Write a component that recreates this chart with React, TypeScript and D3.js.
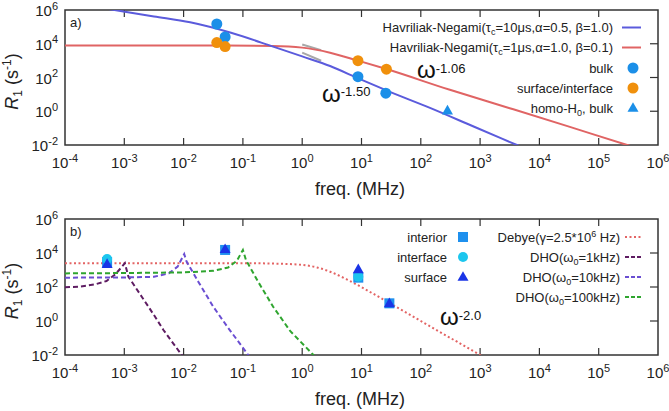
import * as d3 from 'd3';
import React from 'react';

type P = [number, number];

// x: log10(freq / MHz), y: log10(R1 / s^-1)
const xDecades = [-4, -3, -2, -1, 0, 1, 2, 3, 4, 5, 6];
const yDecades = [-2, 0, 2, 4, 6];

// panel a
const hnBlue: P[] = [
  [-3.3, 6.08], [-2.5, 5.62], [-1.89, 5.27], [-1.2, 4.65], [-0.49, 3.83], [0.0, 3.25],
  [0.47, 2.68], [0.975, 1.9], [1.5, 1.12], [2.155, 0.2], [2.9, -0.92], [3.62, -2.0], [3.8, -2.27],
];
const hnRed: P[] = [
  [-4, 3.9], [-1.5, 3.9], [-0.5, 3.87], [0, 3.77], [0.47, 3.47], [0.94, 3.0], [1.42, 2.5],
  [2.49, 1.27], [3.5, 0.18], [4.5, -0.91], [5.48, -2.0], [5.6, -2.13],
];
const guideA: P[] = [[0, 3.96], [0.32, 3.62]];
const guideB: P[] = [[0, 3.47], [0.32, 2.99]];
const bulk: P[] = [[-1.44, 5.17], [-1.3, 4.4], [0.94, 2.05], [1.41, 1.07]];
const surfInterf: P[] = [[-1.44, 4.07], [-1.3, 3.83], [0.94, 3.0], [1.42, 2.49]];
const homoH0: P[] = [[2.45, 0.04]];

// panel b
const debye: P[] = [
  [-4, 3.4], [-1, 3.4], [-0.5, 3.38], [0, 3.3], [0.25, 3.15], [0.47, 2.9], [0.75, 2.45],
  [1.0, 1.99], [1.25, 1.5], [1.42, 1.16], [2.0, 0.0], [2.5, -1.0], [3.0, -2.0], [3.1, -2.2],
];
const dho1k: P[] = [
  [-4, 1.98], [-3.75, 2.02], [-3.5, 2.15], [-3.3, 2.35], [-3.15, 2.75], [-3.05, 3.15], [-2.99, 3.4],
  [-2.93, 2.6], [-2.7, 1.4], [-2.5, 0.35], [-2.34, -0.53], [-2.2, -1.2], [-2.03, -2.0], [-2.0, -2.15],
];
const dho10k: P[] = [
  [-4, 2.55], [-3, 2.56], [-2.5, 2.6], [-2.25, 2.8], [-2.1, 3.2], [-1.99, 3.94],
  [-1.95, 3.5], [-1.75, 2.3], [-1.5, 0.84], [-1.25, -0.4], [-1.1, -1.1], [-0.91, -2.0], [-0.88, -2.15],
];
const dho100k: P[] = [
  [-4, 2.8], [-3, 2.82], [-2, 2.86], [-1.5, 2.95], [-1.25, 3.15], [-1.1, 3.55], [-1.0, 4.18],
  [-0.95, 3.6], [-0.75, 2.35], [-0.49, 0.84], [-0.2, -0.6], [0.19, -2.0], [0.23, -2.15],
];
const interior: P[] = [[-3.29, 3.47], [-1.3, 4.18], [0.946, 2.55], [1.47, 1.04]];
const interfaceP: P[] = [[-3.29, 3.65], [0.946, 2.6]];
const surface: P[] = [[-3.29, 3.35], [-1.3, 4.22], [0.946, 3.04], [1.47, 1.04]];

const FONT = 'Liberation Sans, Arial, sans-serif';
const left = 65;
const right = 658;

const x = d3.scaleLog().domain([1e-4, 1e6]).range([left, right]);

function Sup({ base, exp, size, sup }: { base: string; exp: string; size: number; sup: number }) {
  return (
    <>
      <tspan fontSize={size}>{base}</tspan>
      <tspan fontSize={sup} dy={-size * 0.42}>{exp}</tspan>
    </>
  );
}

function Frame({ y, top, bottom, label, id }: { y: d3.ScaleLogarithmic<number, number>; top: number; bottom: number; label: string; id: string }) {
  const mid = (top + bottom) / 2;
  return (
    <g>
      {xDecades.map(e => (
        <g key={'x' + e}>
          {e > -4 && e < 6 && (
            <>
              <line x1={x(10 ** e)} x2={x(10 ** e)} y1={bottom} y2={bottom - 7} stroke="#333" strokeWidth={1.2} />
              <line x1={x(10 ** e)} x2={x(10 ** e)} y1={top} y2={top + 7} stroke="#333" strokeWidth={1.2} />
            </>
          )}
          <text x={x(10 ** e)} y={bottom + 23} textAnchor="middle" fontFamily={FONT} fill="#222">
            <Sup base="10" exp={String(e)} size={15} sup={11} />
          </text>
        </g>
      ))}
      {yDecades.map(e => (
        <g key={'y' + e}>
          {e > -2 && e < 6 && (
            <line x1={right} x2={right - 8} y1={y(10 ** e)} y2={y(10 ** e)} stroke="#333" strokeWidth={1.2} />
          )}
          <text x={58} y={y(10 ** e) + 6} textAnchor="end" fontFamily={FONT} fill="#222">
            <Sup base="10" exp={String(e)} size={15} sup={11} />
          </text>
        </g>
      ))}
      <rect x={left} y={top} width={right - left} height={bottom - top} fill="none" stroke="#333" strokeWidth={1.5} />
      <text x={70} y={top + 17} fontFamily={FONT} fontSize={13} fill="#222">{label}</text>
      <text
        transform={`translate(18,${mid + 4}) rotate(-90)`}
        textAnchor="middle"
        fontFamily={FONT}
        fill="#222"
      >
        <tspan fontSize={18} fontStyle="italic">R</tspan>
        <tspan fontSize={12} dy={4}>1</tspan>
        <tspan fontSize={18} dy={-4}> (s</tspan>
        <tspan fontSize={12} dy={-7}>-1</tspan>
        <tspan fontSize={18} dy={7}>)</tspan>
      </text>
      <text x={360} y={bottom + 50} textAnchor="middle" fontFamily={FONT} fontSize={18} fill="#222">
        freq. (MHz)
      </text>
      <clipPath id={id}>
        <rect x={left} y={top} width={right - left} height={bottom - top} />
      </clipPath>
    </g>
  );
}

function tri(cx: number, cy: number, s: number) {
  const h = s * 0.87;
  return `M${cx},${cy - h * 0.6}L${cx + s / 2},${cy + h * 0.4}L${cx - s / 2},${cy + h * 0.4}Z`;
}

export default function App() {
  const ya = d3.scaleLog().domain([1e-2, 1e6]).range([145, 10]);
  const yb = d3.scaleLog().domain([1e-2, 1e6]).range([355, 219]);
  const la = d3.line<P>().x(d => x(10 ** d[0])).y(d => ya(10 ** d[1])).curve(d3.curveMonotoneX);
  const lb = d3.line<P>().x(d => x(10 ** d[0])).y(d => yb(10 ** d[1])).curve(d3.curveMonotoneX);
  const lbLin = d3.line<P>().x(d => x(10 ** d[0])).y(d => yb(10 ** d[1]));

  const blueC = '#5b5bdc';
  const redC = '#e06464';
  const bulkC = '#1b8fe8';
  const orangeC = '#f0900c';
  const interiorC = '#1e90ee';
  const interfaceC = '#1cc6ee';
  const surfaceC = '#1a34e6';

  const legA = [
    { t: 'Havriliak-Negami(τ', sub: 'c', rest: '=10μs,α=0.5, β=1.0)', kind: 'line', c: blueC },
    { t: 'Havriliak-Negami(τ', sub: 'c', rest: '=1μs,α=1.0, β=0.1)', kind: 'line', c: redC },
    { t: 'bulk', kind: 'circle', c: bulkC },
    { t: 'surface/interface', kind: 'circle', c: orangeC },
    { t: 'homo-H', sub: '0', rest: ', bulk', kind: 'tri', c: bulkC },
  ];
  const legAy = [27.5, 47.5, 68, 88, 108];

  const legB1 = [
    { t: 'interior', kind: 'square', c: interiorC },
    { t: 'interface', kind: 'circle', c: interfaceC },
    { t: 'surface', kind: 'tri', c: surfaceC },
  ];
  const legB2 = [
    { c: '#e36464', dash: '2,2.5' },
    { c: '#5e1c62', dash: '4,2' },
    { c: '#6a4ed2', dash: '4,2' },
    { c: '#2fa52f', dash: '4,2' },
  ];
  const legBy = [237, 257, 277, 297];

  return (
    <svg width={669} height={411} style={{ position: 'absolute', left: 0, top: 0, background: '#fff' }}>
      <rect width={669} height={411} fill="#fff" />
      {/* panel a */}
      <Frame y={ya} top={10} bottom={145} label="a)" id="clipA" />
      <g clipPath="url(#clipA)">
        <path d={la(guideA) ?? ''} stroke="#a8a8a8" strokeWidth={2} fill="none" />
        <path d={la(guideB) ?? ''} stroke="#a8a8a8" strokeWidth={2} fill="none" />
        <path d={la(hnRed) ?? ''} stroke={redC} strokeWidth={2} fill="none" />
        <path d={la(hnBlue) ?? ''} stroke={blueC} strokeWidth={2} fill="none" />
        {bulk.map((d, i) => (
          <circle key={'b' + i} cx={x(10 ** d[0])} cy={ya(10 ** d[1])} r={5.5} fill={bulkC} />
        ))}
        {surfInterf.map((d, i) => (
          <circle key={'s' + i} cx={x(10 ** d[0])} cy={ya(10 ** d[1])} r={5.5} fill={orangeC} />
        ))}
        {homoH0.map((d, i) => (
          <path key={'h' + i} d={tri(x(10 ** d[0]), ya(10 ** d[1]), 11)} fill={bulkC} />
        ))}
      </g>
      <text x={322} y={102} fontFamily={FONT} fill="#111">
        <tspan fontSize={24}>ω</tspan>
        <tspan fontSize={13} dy={-6}>-1.50</tspan>
      </text>
      <text x={417} y={78} fontFamily={FONT} fill="#111">
        <tspan fontSize={24}>ω</tspan>
        <tspan fontSize={13} dy={-5}>-1.06</tspan>
      </text>
      {legA.map((l, i) => (
        <g key={'la' + i}>
          <text x={613} y={legAy[i] + 4.5} textAnchor="end" fontFamily={FONT} fontSize={13} fill="#222">
            {l.t}
            {l.sub && <tspan fontSize={9} dy={3}>{l.sub}</tspan>}
            {l.rest && <tspan dy={l.sub ? -3 : 0}>{l.rest}</tspan>}
          </text>
          {l.kind === 'line' && <line x1={622} x2={641} y1={legAy[i]} y2={legAy[i]} stroke={l.c} strokeWidth={2} />}
          {l.kind === 'circle' && <circle cx={633} cy={legAy[i]} r={5.5} fill={l.c} />}
          {l.kind === 'tri' && <path d={tri(633, legAy[i], 11)} fill={l.c} />}
        </g>
      ))}

      {/* panel b */}
      <Frame y={yb} top={219} bottom={355} label="b)" id="clipB" />
      <g clipPath="url(#clipB)">
        <path d={lb(debye) ?? ''} stroke="#e36464" strokeWidth={2} strokeDasharray="2,2.5" fill="none" />
        <path d={lbLin(dho1k) ?? ''} stroke="#5e1c62" strokeWidth={2} strokeDasharray="5,3" fill="none" />
        <path d={lbLin(dho10k) ?? ''} stroke="#6a4ed2" strokeWidth={2} strokeDasharray="5,3" fill="none" />
        <path d={lbLin(dho100k) ?? ''} stroke="#2fa52f" strokeWidth={2} strokeDasharray="5,3" fill="none" />
        {interior.map((d, i) => (
          <rect key={'i' + i} x={x(10 ** d[0]) - 5} y={yb(10 ** d[1]) - 5} width={10} height={10} fill={interiorC} />
        ))}
        {interfaceP.map((d, i) => (
          <circle key={'f' + i} cx={x(10 ** d[0])} cy={yb(10 ** d[1])} r={5} fill={interfaceC} />
        ))}
        {surface.map((d, i) => (
          <path key={'u' + i} d={tri(x(10 ** d[0]), yb(10 ** d[1]), 11)} fill={surfaceC} />
        ))}
      </g>
      <text x={440} y={325} fontFamily={FONT} fill="#111">
        <tspan fontSize={24}>ω</tspan>
        <tspan fontSize={13} dy={-5}>-2.0</tspan>
      </text>
      {legB1.map((l, i) => (
        <g key={'lb1' + i}>
          <text x={447} y={legBy[i] + 4.5} textAnchor="end" fontFamily={FONT} fontSize={13} fill="#222">{l.t}</text>
          {l.kind === 'square' && <rect x={458} y={legBy[i] - 5} width={10} height={10} fill={l.c} />}
          {l.kind === 'circle' && <circle cx={463} cy={legBy[i]} r={5} fill={l.c} />}
          {l.kind === 'tri' && <path d={tri(463, legBy[i], 11)} fill={l.c} />}
        </g>
      ))}
      <text x={620} y={legBy[0] + 4.5} textAnchor="end" fontFamily={FONT} fontSize={13} fill="#222">
        Debye(γ=2.5*10<tspan fontSize={9} dy={-5}>6</tspan><tspan dy={5}> Hz)</tspan>
      </text>
      {['1kHz', '10kHz', '100kHz'].map((k, i) => (
        <text key={k} x={620} y={legBy[i + 1] + 4.5} textAnchor="end" fontFamily={FONT} fontSize={13} fill="#222">
          DHO(ω<tspan fontSize={9} dy={3}>0</tspan><tspan dy={-3}>={k})</tspan>
        </text>
      ))}
      {legB2.map((l, i) => (
        <line key={'lb2' + i} x1={625} x2={643} y1={legBy[i]} y2={legBy[i]} stroke={l.c} strokeWidth={2} strokeDasharray={l.dash} />
      ))}
    </svg>
  );
}
